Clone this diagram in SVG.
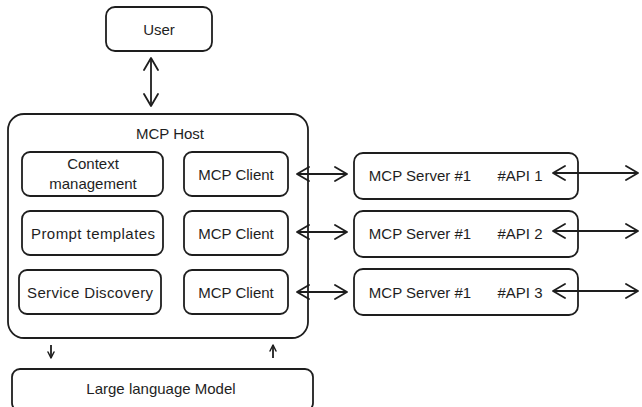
<svg xmlns="http://www.w3.org/2000/svg" width="642" height="407" viewBox="0 0 642 407">
  <style>
    .box { fill: #ffffff; stroke: #1e1e1e; stroke-width: 1.8; }
    .lbl { font-family: "Liberation Sans", "DejaVu Sans", sans-serif; font-size: 15px; fill: #1e1e1e; text-anchor: middle; dominant-baseline: central; }
    .wire { fill: none; stroke: #1e1e1e; stroke-width: 1.8; }
  </style>
  <defs>
    <marker id="head" viewBox="0 0 14 16" refX="13" refY="8" markerWidth="14" markerHeight="16" markerUnits="userSpaceOnUse" orient="auto-start-reverse">
      <path d="M1,1 L13,8 L1,15" fill="none" stroke="#1e1e1e" stroke-width="1.8" stroke-linecap="round" stroke-linejoin="round"/>
    </marker>
    <marker id="small" viewBox="0 0 8 8" refX="7" refY="4" markerWidth="8" markerHeight="8" markerUnits="userSpaceOnUse" orient="auto">
      <path d="M1,1 L7,4 L1,7" fill="none" stroke="#1e1e1e" stroke-width="1.5" stroke-linecap="round" stroke-linejoin="round"/>
    </marker>
  </defs>
  <rect width="642" height="407" fill="#ffffff"/>

  <g id="user">
    <rect class="box" x="106" y="7" width="106" height="44" rx="9"/>
    <text class="lbl" x="159" y="29">User</text>
  </g>

  <g id="mcp-host">
    <rect class="box" x="8" y="114" width="300" height="224" rx="16"/>
    <text class="lbl" x="170" y="133">MCP Host</text>
  </g>

  <g id="context-management">
    <rect class="box" x="22" y="152" width="141" height="44" rx="8"/>
    <text class="lbl" x="93" y="163">Context</text>
    <text class="lbl" x="93" y="183">management</text>
  </g>
  <g id="prompt-templates">
    <rect class="box" x="22" y="211" width="141" height="44" rx="8"/>
    <text class="lbl" x="93" y="233" textLength="124">Prompt templates</text>
  </g>
  <g id="service-discovery">
    <rect class="box" x="19" y="270" width="142" height="44" rx="8"/>
    <text class="lbl" x="90" y="292" textLength="126">Service Discovery</text>
  </g>

  <g id="mcp-client-1">
    <rect class="box" x="184" y="152" width="104" height="44" rx="8"/>
    <text class="lbl" x="236" y="174">MCP Client</text>
  </g>
  <g id="mcp-client-2">
    <rect class="box" x="184" y="211" width="104" height="44" rx="8"/>
    <text class="lbl" x="236" y="233">MCP Client</text>
  </g>
  <g id="mcp-client-3">
    <rect class="box" x="184" y="270" width="104" height="44" rx="8"/>
    <text class="lbl" x="236" y="292">MCP Client</text>
  </g>

  <g id="mcp-server-1">
    <rect class="box" x="354" y="153" width="224" height="46" rx="9"/>
    <text class="lbl" x="420" y="175">MCP Server #1</text>
    <text class="lbl" x="520" y="175">#API 1</text>
  </g>
  <g id="mcp-server-2">
    <rect class="box" x="354" y="211" width="224" height="46" rx="9"/>
    <text class="lbl" x="420" y="233">MCP Server #1</text>
    <text class="lbl" x="520" y="233">#API 2</text>
  </g>
  <g id="mcp-server-3">
    <rect class="box" x="354" y="269" width="224" height="46" rx="9"/>
    <text class="lbl" x="420" y="292">MCP Server #1</text>
    <text class="lbl" x="520" y="292">#API 3</text>
  </g>

  <g id="llm">
    <rect class="box" x="12" y="369" width="301" height="42" rx="8"/>
    <text class="lbl" x="161" y="388">Large language Model</text>
  </g>

  <g id="connectors">
    <line class="wire" x1="151" y1="58" x2="151" y2="106" marker-start="url(#head)" marker-end="url(#head)"/>
    <line class="wire" x1="297" y1="174" x2="347" y2="174" marker-start="url(#head)" marker-end="url(#head)"/>
    <line class="wire" x1="297" y1="232" x2="347" y2="232" marker-start="url(#head)" marker-end="url(#head)"/>
    <line class="wire" x1="297" y1="292" x2="347" y2="292" marker-start="url(#head)" marker-end="url(#head)"/>
    <line class="wire" x1="553" y1="173" x2="638" y2="173" marker-start="url(#head)" marker-end="url(#head)"/>
    <line class="wire" x1="553" y1="231" x2="638" y2="231" marker-start="url(#head)" marker-end="url(#head)"/>
    <line class="wire" x1="553" y1="291" x2="638" y2="291" marker-start="url(#head)" marker-end="url(#head)"/>
    <line class="wire" x1="51" y1="345" x2="51" y2="358" marker-end="url(#small)"/>
    <line class="wire" x1="273" y1="358" x2="273" y2="345" marker-end="url(#small)"/>
  </g>
</svg>
